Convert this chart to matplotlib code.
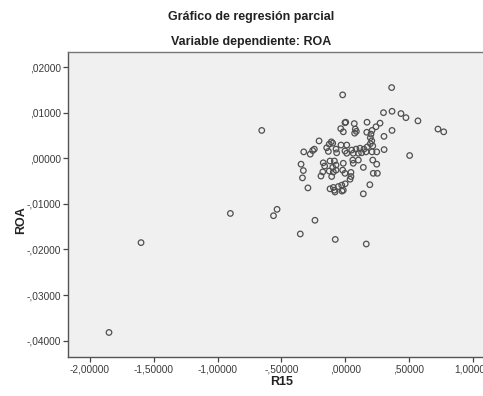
import matplotlib
matplotlib.use("Agg")
import matplotlib.pyplot as plt

# Partial regression residuals: R15 (x) vs ROA (y)
r15 = [
    -1.851, -1.600, -0.900, -0.562, -0.534, -0.352, -0.654, -0.237, -0.078, 0.165,
    0.142, 0.193, -0.292, -0.346, -0.328, -0.335, 0.364, -0.020, 0.300, 0.367,
    0.437, 0.476, 0.570, 0.727, 0.772, 0.505, 0.367, 0.304, 0.305, 0.273,
    0.241, 0.210, 0.202, 0.197, 0.208, 0.197, 0.216, 0.171, 0.169, 0.004,
    -0.002, 0.071, 0.079, 0.074, 0.087, -0.035, -0.015, -0.205, -0.109, -0.098,
    -0.125, -0.145, -0.132, -0.325, -0.255, -0.242, -0.274, -0.072, -0.033, 0.012,
    -0.067, -0.002, 0.012, 0.051, 0.085, 0.116, 0.147, 0.173, 0.063, 0.103,
    0.129, 0.163, 0.210, 0.247, -0.172, -0.161, -0.119, -0.085, -0.072, -0.098,
    -0.176, -0.190, -0.125, -0.093, -0.072, -0.106, -0.015, -0.020, -0.002, 0.045,
    0.063, 0.059, 0.103, 0.142, 0.216, 0.247, 0.220, 0.252, 0.045, 0.038,
    -0.119, -0.085, -0.054, -0.027, -0.015, -0.093, -0.025, -0.080, 0.000,
]
roa = [
    -0.0382, -0.0185, -0.0121, -0.0126, -0.0112, -0.0166, 0.0061, -0.0136, -0.0178, -0.0188,
    -0.0078, -0.0058, -0.0065, -0.0013, -0.0027, -0.0043, 0.0155, 0.0139, 0.0100, 0.0103,
    0.0098, 0.0089, 0.0082, 0.0064, 0.0058, 0.0006, 0.0061, 0.0048, 0.0019, 0.0077,
    0.0069, 0.0061, 0.0053, 0.0045, 0.0038, 0.0032, 0.0027, 0.0079, 0.0057, 0.0079,
    0.0078, 0.0076, 0.0064, 0.0055, 0.0059, 0.0065, 0.0058, 0.0038, 0.0036, 0.0033,
    0.0031, 0.0023, 0.0015, 0.0014, 0.0017, 0.0020, 0.0009, 0.0020, 0.0029, 0.0029,
    0.0012, 0.0016, 0.0011, 0.0018, 0.0020, 0.0022, 0.0020, 0.0025, 0.0011, 0.0011,
    0.0012, 0.0014, 0.0014, 0.0014, -0.0010, -0.0017, -0.0006, -0.0006, -0.0015, -0.0020,
    -0.0030, -0.0039, -0.0028, -0.0030, -0.0026, -0.0040, -0.0011, -0.0026, -0.0033, -0.0031,
    -0.0011, -0.0004, -0.0004, -0.0020, -0.0004, -0.0013, -0.0033, -0.0033, -0.0040, -0.0046,
    -0.0067, -0.0070, -0.0062, -0.0059, -0.0070, -0.0064, -0.0072, -0.0074, -0.0056,
]

x_ticks = [-2.0, -1.5, -1.0, -0.5, 0.0, 0.5, 1.0]
x_tick_labels = ["-2,00000", "-1,50000", "-1,00000", "-,50000", ",00000", ",50000", "1,00000"]
y_ticks = [0.02, 0.01, 0.0, -0.01, -0.02, -0.03, -0.04]
y_tick_labels = [",02000", ",01000", ",00000", "-,01000", "-,02000", "-,03000", "-,04000"]

title_1 = "Gráfico de regresión parcial"
title_2 = "Variable dependiente: ROA"
x_label = "R15"
y_label = "ROA"

plt.rcParams["font.family"] = ["Liberation Sans", "DejaVu Sans"]

W, H = 483, 396
fig = plt.figure(figsize=(W / 100, H / 100), dpi=100)
fig.patch.set_facecolor("white")

xlim = (-2.17, 1.17)
ylim = (-0.0436, 0.0233)
# axes box in pixels (extends slightly past the right edge of the canvas)
left_px, right_px, top_px, bottom_px = 68.3, 494.5, 52.0, 357.1
ax = fig.add_axes([left_px / W, (H - bottom_px) / H,
                   (right_px - left_px) / W, (bottom_px - top_px) / H])
ax.set_facecolor("#f0f0f0")
ax.set_xlim(*xlim)
ax.set_ylim(*ylim)

ax.scatter(r15, roa, s=16, facecolors="none", edgecolors="#505050",
           linewidths=0.9, zorder=3)

ax.set_xticks(x_ticks)
ax.set_xticklabels(x_tick_labels)
ax.set_yticks(y_ticks)
ax.set_yticklabels(y_tick_labels)
ax.tick_params(axis="both", direction="out", length=3.5, width=0.9,
               color="#444444", labelsize=7.3, labelcolor="#3a3a3a", pad=2)

for side in ("left", "bottom", "top", "right"):
    ax.spines[side].set_color("#555555")
    ax.spines[side].set_linewidth(1.0)
ax.spines["top"].set_color("#777777")

fig.text(251 / W, 1 - 17 / H, title_1, ha="center", va="center",
         fontsize=9, fontweight="bold", color="#222222")
fig.text(251 / W, 1 - 42 / H, title_2, ha="center", va="center",
         fontsize=9, fontweight="bold", color="#222222")
fig.text(21 / W, 1 - 220 / H, y_label, ha="center", va="center", rotation=90,
         fontsize=9, fontweight="bold", color="#222222")
fig.text(282 / W, 1 - 382 / H, x_label, ha="center", va="center",
         fontsize=9, fontweight="bold", color="#222222")

fig.savefig("out.png", dpi=100, facecolor="white")
